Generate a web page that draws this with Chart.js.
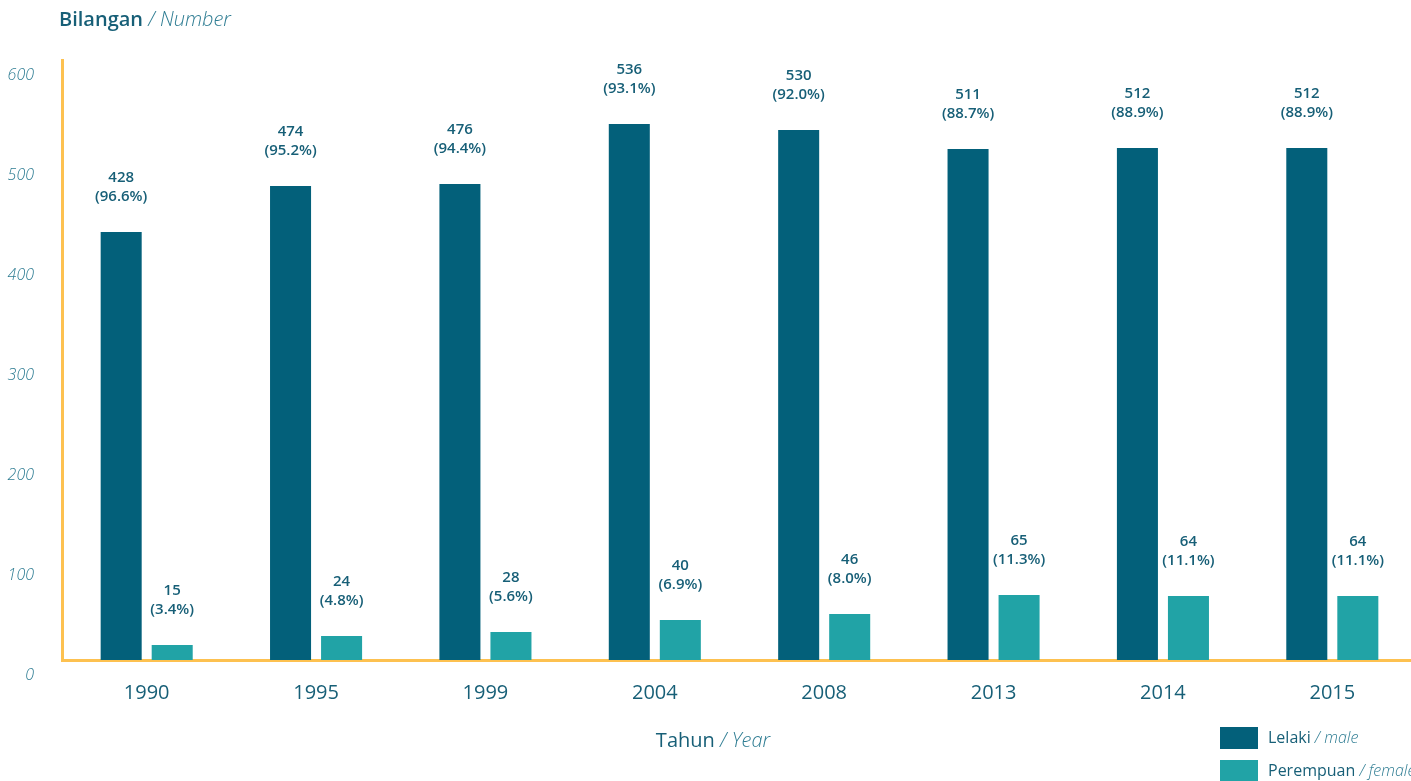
<!DOCTYPE html>
<html><head><meta charset="utf-8">
<script src="https://cdn.jsdelivr.net/npm/chart.js@4/dist/chart.umd.min.js"></script>
<style>html,body{margin:0;padding:0;overflow:hidden;background:#fff;width:1411px;height:781px}canvas{display:block}</style>
</head><body><canvas id="c" width="1417" height="781"></canvas>
<script>
const years = ['1990','1995','1999','2004','2008','2013','2014','2015'];
const male = [428,474,476,536,530,511,512,512];
const female = [15,24,28,40,46,65,64,64];
const malePct = ['96.6%','95.2%','94.4%','93.1%','92.0%','88.7%','88.9%','88.9%'];
const femalePct = ['3.4%','4.8%','5.6%','6.9%','8.0%','11.3%','11.1%','11.1%'];
const yTicks = [0,100,200,300,400,500,600];

const FONT = "'Open Sans', sans-serif";
const DARK = '#175f77';
const MID = '#2f7d93';
const MALE_C = '#03607a';
const FEMALE_C = '#21a3a6';
const AXIS_C = '#fdc150';

function drawParts(ctx, x, y, parts) {
  ctx.save();
  ctx.textBaseline = 'middle';
  ctx.textAlign = 'left';
  let cx = x;
  for (const p of parts) {
    ctx.font = p.font;
    ctx.fillStyle = p.color;
    ctx.fillText(p.text, cx, y);
    cx += ctx.measureText(p.text).width;
  }
  ctx.restore();
  return cx;
}
function partsWidth(ctx, parts) {
  ctx.save();
  let w = 0;
  for (const p of parts) { ctx.font = p.font; w += ctx.measureText(p.text).width; }
  ctx.restore();
  return w;
}

const pctLists = [malePct, femalePct];

const decor = {
  id: 'decor',
  afterDatasetsDraw(chart) {
    const ctx = chart.ctx;
    ctx.save();
    ctx.textAlign = 'center';
    ctx.textBaseline = 'middle';
    ctx.fillStyle = DARK;
    ctx.font = "600 15px " + FONT;
    chart.data.datasets.forEach((ds, di) => {
      const meta = chart.getDatasetMeta(di);
      meta.data.forEach((el, i) => {
        ctx.fillText(String(ds.data[i]), el.x, el.y - 54);
        ctx.fillText('(' + pctLists[di][i] + ')', el.x, el.y - 35);
      });
    });
    ctx.restore();
  },
  afterDraw(chart) {
    const ctx = chart.ctx;
    drawParts(ctx, 59, 20, [
      {text: 'Bilangan ', font: "600 20px " + FONT, color: DARK},
      {text: '/ Number', font: "italic 300 20px " + FONT, color: MID}
    ]);
    const xt = [
      {text: 'Tahun ', font: "500 20px " + FONT, color: DARK},
      {text: '/ Year', font: "italic 300 20px " + FONT, color: MID}
    ];
    const w = partsWidth(ctx, xt);
    drawParts(ctx, 713 - w / 2, 741, xt);
    const items = [
      {label: 'Lelaki ', sub: '/ male', color: MALE_C, y: 727},
      {label: 'Perempuan ', sub: '/ female', color: FEMALE_C, y: 760}
    ];
    items.forEach(it => {
      ctx.fillStyle = it.color;
      ctx.fillRect(1220, it.y, 38, 22);
      drawParts(ctx, 1268, it.y + 11, [
        {text: it.label, font: "500 16px " + FONT, color: DARK},
        {text: it.sub, font: "italic 300 16px " + FONT, color: MID}
      ]);
    });
  }
};

new Chart(document.getElementById('c'), {
  type: 'bar',
  data: {
    labels: years,
    datasets: [
      {label: 'Lelaki / male', data: male, backgroundColor: MALE_C, categoryPercentage: 0.6025, barPercentage: 0.804},
      {label: 'Perempuan / female', data: female, backgroundColor: FEMALE_C, categoryPercentage: 0.6025, barPercentage: 0.804}
    ]
  },
  options: {
    responsive: false,
    animation: false,
    devicePixelRatio: 1,
    layout: {padding: {top: 60, left: 0, right: 0, bottom: 0}},
    plugins: {legend: {display: false}, tooltip: {enabled: false}, title: {display: false}},
    scales: {
      x: {
        grid: {display: false},
        border: {display: true, color: AXIS_C, width: 3},
        ticks: {color: DARK, font: {family: FONT, size: 20, weight: '400'}, padding: 13, maxRotation: 0},
        afterFit: s => { s.height = 121; }
      },
      y: {
        min: 0, max: 600,
        grid: {display: false},
        border: {display: true, color: AXIS_C, width: 3},
        ticks: {color: MID, font: {family: FONT, size: 16, style: 'italic', weight: '300'}, padding: 20, labelOffset: 15},
        afterBuildTicks: s => { s.ticks = yTicks.map(v => ({value: v})); },
        afterFit: s => { s.width = 62; }
      }
    }
  },
  plugins: [decor]
});
</script></body></html>
